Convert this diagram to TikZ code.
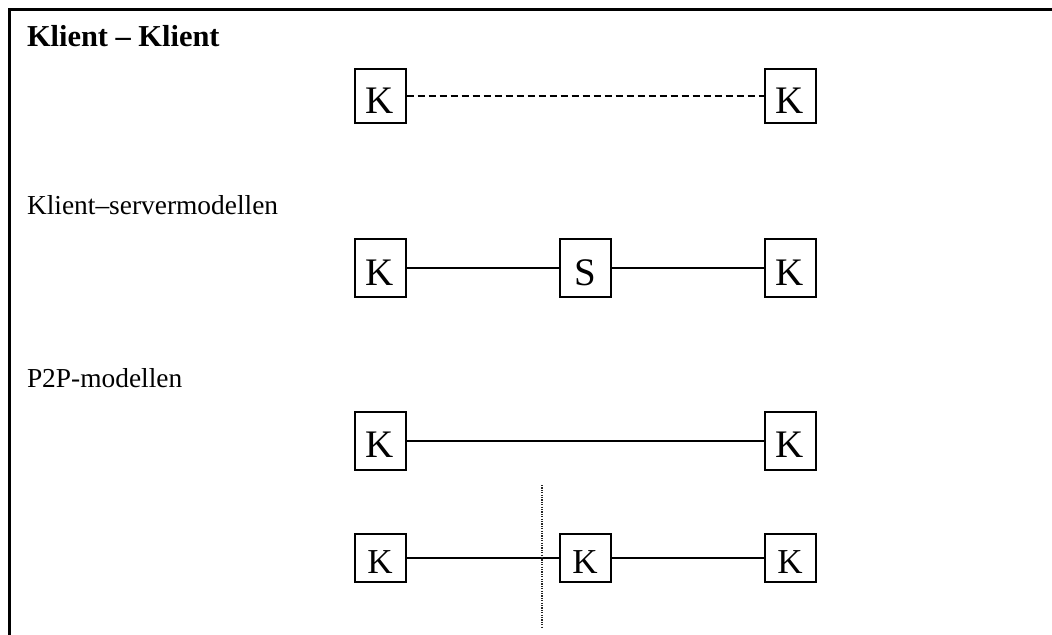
\documentclass[tikz,border=0pt]{standalone}
\usepackage{fontspec}
\setmainfont{Liberation Serif}
\usetikzlibrary{positioning}

\begin{document}
\begin{tikzpicture}[
        x=0.5pt, y=-0.5pt,
        outer sep=auto,
        every node/.style={inner sep=0pt},
        host/.style={draw, line width=1pt, minimum width=25.5pt, minimum height=29pt,
            text height=17pt, text depth=0pt, font=\fontsize{19.5}{20}\selectfont},
        smallhost/.style={host, minimum height=24pt, text height=15.5pt,
            font=\fontsize{17.5}{18}\selectfont},
        heading/.style={anchor=base west, font=\fontsize{13.7}{16}\selectfont},
        link/.style={line width=1pt},
    ]
        \useasboundingbox (0,0) rectangle (1052,635);
        % frame, only top and left edge
        \draw[line width=1.1pt] (9.5,635) -- (9.5,9.5) -- (1052,9.5);

        \node[heading, font=\fontsize{15.2}{18}\selectfont\bfseries] (t1) at (27,47) {Klient -- Klient};
        \node[host, minimum height=27pt] (a1) at (380,96.5) {K};
        \node[host, minimum height=27pt, right=178.5pt of a1] (a2) {K};
        \draw[link, dash pattern=on 3.5pt off 2pt] (a1) -- (a2);

        \node[heading] (t2) at (27,215) {Klient--servermodellen};
        \node[host] (b1) at (380,268.5) {K};
        \node[host, right=76pt of b1] (srv) {S};
        \node[host, right=76pt of srv] (b2) {K};
        \draw[link] (b1) -- (srv);
        \draw[link] (srv) -- (b2);

        \node[heading] (t3) at (27,387) {P2P-modellen};
        \node[host] (c1) at (380,440.5) {K};
        \node[host, right=178.5pt of c1] (c2) {K};
        \draw[link] (c1) -- (c2);

        \node[smallhost] (d1) at (380,558) {K};
        \node[smallhost, right=76pt of d1] (d2) {K};
        \node[smallhost, right=76pt of d2] (d3) {K};
        \draw[link] (d1) -- (d2);
        \draw[link] (d2) -- (d3);

        \coordinate (cut top) at (542,485);
        \coordinate (cut bottom) at (542,627);
        \draw[line width=0.75pt, black!85, dash pattern=on 0.6pt off 0.6pt] (cut top) -- (cut bottom);
    \end{tikzpicture}
\end{document}
